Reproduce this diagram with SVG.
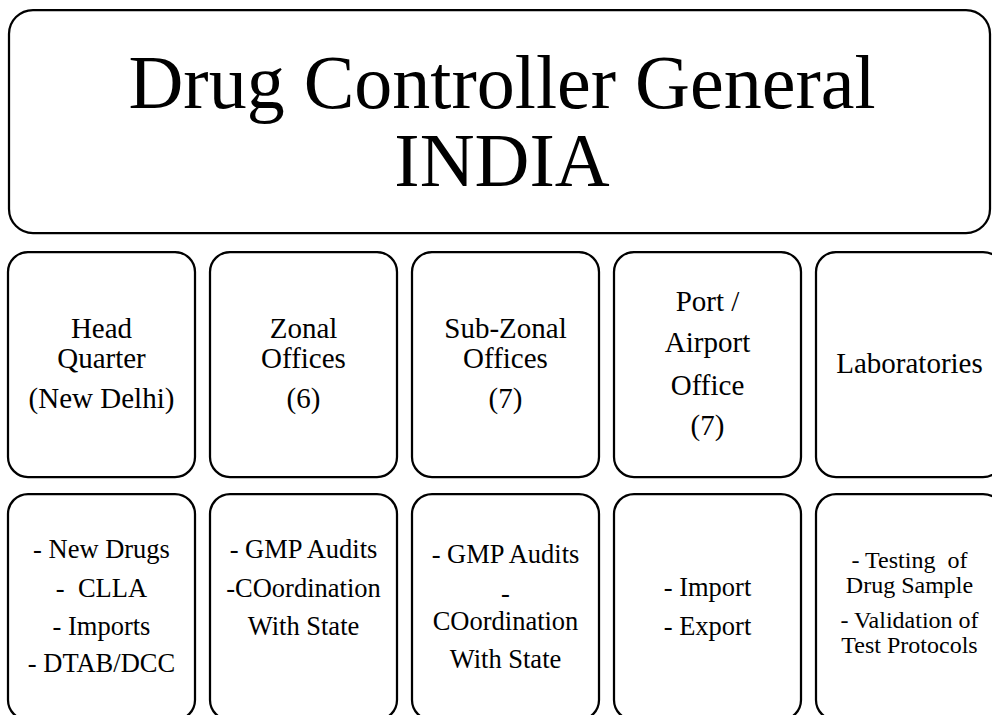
<svg xmlns="http://www.w3.org/2000/svg" width="992" height="715" viewBox="0 0 992 715">
<style>
.box{fill:#fff;stroke:#000;stroke-width:2.25}
text{font-family:"Liberation Serif","Times New Roman",serif;fill:#000;text-anchor:middle}
.t{font-size:76px}
.m{font-size:29px}
.s{font-size:26.5px}
.xs{font-size:24px}
</style>
<rect width="992" height="715" fill="#fff"/>
<g id="root">
<rect class="box" x="9" y="10" width="981" height="223" rx="24"/>
<text class="t" x="502" y="108">Drug Controller General</text>
<text class="t" x="502" y="186">INDIA</text>
</g>
<g id="connectors"></g>
<g id="hq">
<rect class="box" x="8" y="252" width="187" height="225" rx="20"/>
<text class="m" x="101.5" y="338">Head</text>
<text class="m" x="101.5" y="368">Quarter</text>
<text class="m" x="101.5" y="408">(New Delhi)</text>
</g>
<g id="zonal">
<rect class="box" x="210" y="252" width="187" height="225" rx="20"/>
<text class="m" x="303.5" y="338">Zonal</text>
<text class="m" x="303.5" y="368">Offices</text>
<text class="m" x="303.5" y="408">(6)</text>
</g>
<g id="subzonal">
<rect class="box" x="412" y="252" width="187" height="225" rx="20"/>
<text class="m" x="505.5" y="338">Sub-Zonal</text>
<text class="m" x="505.5" y="368">Offices</text>
<text class="m" x="505.5" y="408">(7)</text>
</g>
<g id="port">
<rect class="box" x="614" y="252" width="187" height="225" rx="20"/>
<text class="m" x="707.5" y="311">Port /</text>
<text class="m" x="707.5" y="352">Airport</text>
<text class="m" x="707.5" y="395">Office</text>
<text class="m" x="707.5" y="435">(7)</text>
</g>
<g id="labs">
<rect class="box" x="816" y="252" width="187" height="225" rx="20"/>
<text class="m" x="909.5" y="373">Laboratories</text>
</g>
<g id="hq-tasks">
<rect class="box" x="8" y="494" width="187" height="226" rx="20"/>
<text class="s" x="101.5" y="558">- New Drugs</text>
<text class="s" x="101.5" y="597" xml:space="preserve">-  CLLA</text>
<text class="s" x="101.5" y="635">- Imports</text>
<text class="s" x="101.5" y="672">- DTAB/DCC</text>
</g>
<g id="zonal-tasks">
<rect class="box" x="210" y="494" width="187" height="226" rx="20"/>
<text class="s" x="303.5" y="558">- GMP Audits</text>
<text class="s" x="303.5" y="597">-COordination</text>
<text class="s" x="303.5" y="635">With State</text>
</g>
<g id="subzonal-tasks">
<rect class="box" x="412" y="494" width="187" height="226" rx="20"/>
<text class="s" x="505.5" y="563">- GMP Audits</text>
<text class="s" x="505.5" y="602">-</text>
<text class="s" x="505.5" y="630">COordination</text>
<text class="s" x="505.5" y="668">With State</text>
</g>
<g id="port-tasks">
<rect class="box" x="614" y="494" width="187" height="226" rx="20"/>
<text class="s" x="707.5" y="596">- Import</text>
<text class="s" x="707.5" y="635">- Export</text>
</g>
<g id="labs-tasks">
<rect class="box" x="816" y="494" width="187" height="226" rx="20"/>
<text class="xs" x="909.5" y="568" xml:space="preserve">- Testing  of</text>
<text class="xs" x="909.5" y="593">Drug Sample</text>
<text class="xs" x="909.5" y="628">- Validation of</text>
<text class="xs" x="909.5" y="653">Test Protocols</text>
</g>
</svg>
